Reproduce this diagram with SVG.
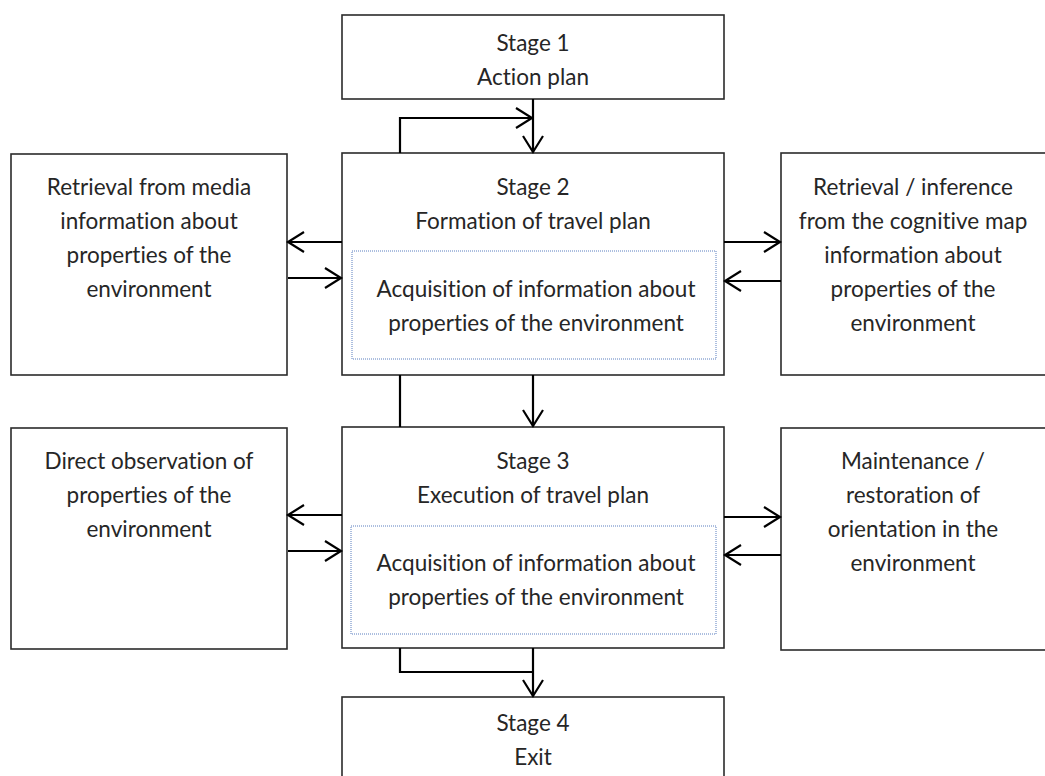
<svg xmlns="http://www.w3.org/2000/svg" width="1045" height="776" viewBox="0 0 1045 776">
  <style>
    .box { fill: #ffffff; stroke: #2b2b2b; stroke-width: 1.6; }
    .inner { fill: none; stroke: #5a7fbf; stroke-width: 1; stroke-dasharray: 1 1; }
    .lbl { font-family: Lato, "Open Sans", "Liberation Sans", sans-serif; font-size: 22.5px; fill: #262626; text-anchor: middle; font-variant-ligatures: none; }
    .wire { fill: none; stroke: #000000; stroke-width: 2.2; }
  </style>
  <defs>
    <marker id="arrow" markerUnits="userSpaceOnUse" markerWidth="24" markerHeight="26" refX="0" refY="0" viewBox="-20 -13 24 26" orient="auto">
      <path d="M-16,-10 L0,0 L-16,10" fill="none" stroke="#000000" stroke-width="2.2"/>
    </marker>
  </defs>
  <rect width="1045" height="776" fill="#ffffff"/>

  <g id="stage1">
    <rect class="box" x="342" y="15" width="382" height="84"/>
    <text class="lbl" x="533" y="51">Stage 1</text>
    <text class="lbl" x="533" y="85">Action plan</text>
  </g>

  <g id="stage2">
    <rect class="box" x="342" y="153" width="382" height="222"/>
    <text class="lbl" x="533" y="195">Stage 2</text>
    <text class="lbl" x="533" y="229">Formation of travel plan</text>
    <rect class="inner" x="352" y="251" width="364" height="108"/>
    <text class="lbl" x="536" y="297">Acquisition of information about</text>
    <text class="lbl" x="536" y="331">properties of the environment</text>
  </g>

  <g id="media">
    <rect class="box" x="11" y="154" width="276" height="221"/>
    <text class="lbl" x="149" y="195">Retrieval from media</text>
    <text class="lbl" x="149" y="229">information about</text>
    <text class="lbl" x="149" y="263">properties of the</text>
    <text class="lbl" x="149" y="297">environment</text>
  </g>

  <g id="cognitive-map">
    <rect class="box" x="781" y="153" width="266" height="222"/>
    <text class="lbl" x="913" y="195">Retrieval / inference</text>
    <text class="lbl" x="913" y="229">from the cognitive map</text>
    <text class="lbl" x="913" y="263">information about</text>
    <text class="lbl" x="913" y="297">properties of the</text>
    <text class="lbl" x="913" y="331">environment</text>
  </g>

  <g id="stage3">
    <rect class="box" x="342" y="427" width="382" height="221"/>
    <text class="lbl" x="533" y="469">Stage 3</text>
    <text class="lbl" x="533" y="503">Execution of travel plan</text>
    <rect class="inner" x="351" y="526" width="365" height="108"/>
    <text class="lbl" x="536" y="571">Acquisition of information about</text>
    <text class="lbl" x="536" y="605">properties of the environment</text>
  </g>

  <g id="observation">
    <rect class="box" x="11" y="428" width="276" height="221"/>
    <text class="lbl" x="149" y="469">Direct observation of</text>
    <text class="lbl" x="149" y="503">properties of the</text>
    <text class="lbl" x="149" y="537">environment</text>
  </g>

  <g id="orientation">
    <rect class="box" x="781" y="428" width="266" height="222"/>
    <text class="lbl" x="913" y="469">Maintenance /</text>
    <text class="lbl" x="913" y="503">restoration of</text>
    <text class="lbl" x="913" y="537">orientation in the</text>
    <text class="lbl" x="913" y="571">environment</text>
  </g>

  <g id="stage4">
    <rect class="box" x="342" y="697" width="382" height="90"/>
    <text class="lbl" x="533" y="731">Stage 4</text>
    <text class="lbl" x="533" y="765">Exit</text>
  </g>

  <g id="connectors">
    <path class="wire" d="M533,99 V152" marker-end="url(#arrow)"/>
    <path class="wire" d="M400,153 V118 H532" marker-end="url(#arrow)"/>
    <path class="wire" d="M533,375 V426" marker-end="url(#arrow)"/>
    <path class="wire" d="M400,375 V427"/>
    <path class="wire" d="M533,648 V696" marker-end="url(#arrow)"/>
    <path class="wire" d="M400,648 V672 H533"/>

    <path class="wire" d="M342,242 H288" marker-end="url(#arrow)"/>
    <path class="wire" d="M288,278 H341" marker-end="url(#arrow)"/>
    <path class="wire" d="M724,242 H780" marker-end="url(#arrow)"/>
    <path class="wire" d="M781,281 H725" marker-end="url(#arrow)"/>

    <path class="wire" d="M342,515 H288" marker-end="url(#arrow)"/>
    <path class="wire" d="M288,551 H341" marker-end="url(#arrow)"/>
    <path class="wire" d="M724,517 H780" marker-end="url(#arrow)"/>
    <path class="wire" d="M781,555 H725" marker-end="url(#arrow)"/>
  </g>
</svg>
